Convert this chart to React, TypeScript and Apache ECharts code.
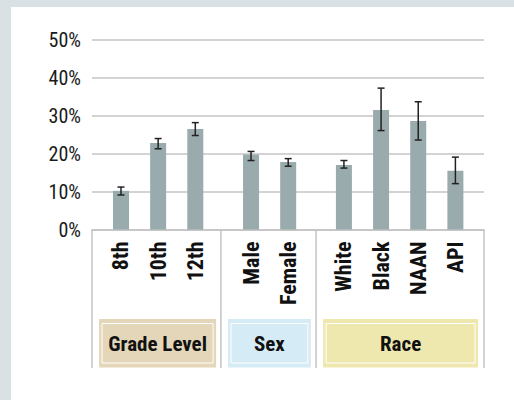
import React, { useEffect, useRef } from "react";
import * as echarts from "echarts";

const categories = ["8th", "10th", "12th", "Male", "Female", "White", "Black", "NAAN", "API"];
const positions = [0, 1, 2, 3.5, 4.5, 6, 7, 8, 9];
const values = [10.2, 22.8, 26.5, 19.8, 17.8, 17.0, 31.5, 28.6, 15.5];
const errLow = [9.1, 21.3, 24.8, 18.2, 16.7, 16.2, 26.1, 23.6, 12.1];
const errHigh = [11.2, 24.0, 28.2, 20.6, 18.7, 18.2, 37.3, 33.7, 19.1];
const yTicks = [0, 10, 20, 30, 40, 50];
const groupNames = ["Grade Level", "Sex", "Race"];
const groupStart = [-0.59, 2.88, 5.44];
const groupEnd = [2.56, 5.11, 9.61];
const groupColors = ["#e4d6b8", "#d5ebf6", "#efe8ae"];
const dividers = [-0.78, 2.69, 5.25, 9.77];

const FONT = "'Liberation Sans Narrow', 'Roboto Condensed', 'Noto Sans Condensed', 'DejaVu Sans Condensed', sans-serif";

export default function App() {
  const ref = useRef<HTMLDivElement>(null);
  useEffect(() => {
    if (!ref.current) return;
    const chart = echarts.init(ref.current, undefined, { renderer: "svg" });
    const option: any = {
      animation: false,
      backgroundColor: "#ffffff",
      grid: { left: 81, right: 30, top: 33, bottom: 170.5 },
      xAxis: {
        type: "value",
        min: -0.78,
        max: 9.77,
        splitLine: { show: false },
        axisTick: { show: false },
        axisLine: { show: true, lineStyle: { color: "#c4c4c4", width: 1.5 } },
        axisLabel: {
          customValues: positions,
          rotate: 90,
          margin: 12,
          formatter: (v: number) => {
            const i = positions.indexOf(v);
            return i >= 0 ? categories[i] : "";
          },
          fontFamily: FONT,
          fontWeight: "bold",
          fontSize: 22,
          color: "#111111",
        },
      },
      yAxis: {
        type: "value",
        min: 0,
        max: 50,
        interval: 10,
        axisLine: { show: false },
        axisTick: { show: false },
        splitLine: { lineStyle: { color: "#c4c4c4", width: 1.5 } },
        axisLabel: {
          formatter: (v: number) => (yTicks.indexOf(v) >= 0 ? v + "%" : ""),
          fontFamily: FONT,
          fontSize: 20,
          color: "#1a1a1a",
          margin: 11,
        },
      },
      series: [
        {
          type: "bar",
          data: positions.map((p, i) => [p, values[i]]),
          barWidth: 16,
          itemStyle: { color: "#9aabae" },
          z: 2,
        },
        {
          type: "custom",
          data: positions.map((p, i) => [p, errLow[i], errHigh[i]]),
          z: 3,
          renderItem: (params: any, api: any) => {
            const x = api.value(0);
            const lo = api.coord([x, api.value(1)]);
            const hi = api.coord([x, api.value(2)]);
            const w = 3.5;
            const style = { stroke: "#222222", lineWidth: 1.5 };
            return {
              type: "group",
              children: [
                { type: "line", shape: { x1: lo[0], y1: lo[1], x2: hi[0], y2: hi[1] }, style },
                { type: "line", shape: { x1: lo[0] - w, y1: lo[1], x2: lo[0] + w, y2: lo[1] }, style },
                { type: "line", shape: { x1: hi[0] - w, y1: hi[1], x2: hi[0] + w, y2: hi[1] }, style },
              ],
            };
          },
        },
        {
          type: "custom",
          data: dividers.map((d) => [d]),
          clip: false,
          renderItem: (params: any, api: any) => {
            const p = api.coord([api.value(0), 0]);
            return {
              type: "line",
              shape: { x1: p[0], y1: p[1], x2: p[0], y2: p[1] + 138.5 },
              style: { stroke: "#c4c4c4", lineWidth: 1.5 },
            };
          },
        },
        {
          type: "custom",
          data: groupNames.map((n, i) => [groupStart[i], groupEnd[i], i]),
          clip: false,
          renderItem: (params: any, api: any) => {
            const a = api.coord([api.value(0), 0]);
            const b = api.coord([api.value(1), 0]);
            const i = api.value(2);
            const top = a[1] + 89.5;
            const h = 48.5;
            return {
              type: "group",
              children: [
                { type: "rect", shape: { x: a[0], y: top, width: b[0] - a[0], height: h }, style: { fill: groupColors[i] } },
                {
                  type: "rect",
                  shape: { x: a[0] + 3, y: top + 4.5, width: b[0] - a[0] - 6, height: h - 9 },
                  style: { fill: "none", stroke: "#ffffff", lineWidth: 1 },
                },
                {
                  type: "text",
                  x: (a[0] + b[0]) / 2,
                  y: top + h / 2 + 1,
                  style: {
                    text: groupNames[i],
                    fontFamily: FONT,
                    fontWeight: "bold",
                    fontSize: 21,
                    fill: "#111111",
                    align: "center",
                    verticalAlign: "middle",
                  },
                },
              ],
            };
          },
        },
      ],
    };
    chart.setOption(option);
    return () => chart.dispose();
  }, []);
  return (
    <div style={{ position: "fixed", left: 0, top: 0, width: 514, height: 400, background: "#d9e1e5" }}>
      <div ref={ref} style={{ position: "absolute", left: 11, top: 7, width: 503, height: 393 }} />
    </div>
  );
}
